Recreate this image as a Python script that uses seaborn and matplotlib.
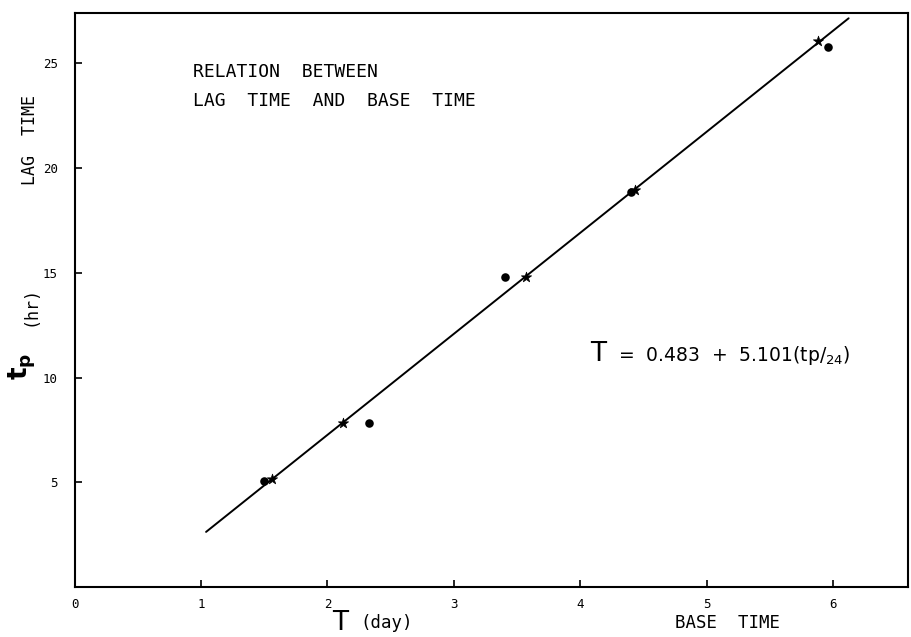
import matplotlib
matplotlib.use("Agg")
import matplotlib.pyplot as plt
import seaborn as sns
import pandas as pd

# Data
dot_T = [1.50, 2.33, 3.40, 4.40, 5.96]
dot_tp = [5.07, 7.84, 14.8, 18.85, 25.8]
star_T = [1.56, 2.12, 3.57, 4.43, 5.88]
star_tp = [5.16, 7.84, 14.8, 18.95, 26.05]
line_T = [1.04, 6.12]
line_tp = [2.63, 27.15]
x_ticks = [0, 1, 2, 3, 4, 5, 6]
y_ticks = [5, 10, 15, 20, 25]

sns.set_style("ticks")
plt.rcParams['font.family'] = ['DejaVu Sans']
plt.rcParams['text.color'] = 'black'

fig = plt.figure(figsize=(9.11, 6.37), dpi=100)
ax = fig.add_axes([0.0818, 0.0785, 0.915, 0.901])

dots = pd.DataFrame({"T": dot_T, "tp": dot_tp})
stars = pd.DataFrame({"T": star_T, "tp": star_tp})
line = pd.DataFrame({"T": line_T, "tp": line_tp})

sns.lineplot(data=line, x="T", y="tp", ax=ax, color="black", linewidth=1.4)
sns.scatterplot(data=dots, x="T", y="tp", ax=ax, color="black", marker="o",
                s=38, edgecolor="black", linewidth=0)
sns.scatterplot(data=stars, x="T", y="tp", ax=ax, color="black", marker="*",
                s=60, edgecolor="black", linewidth=0.5)

ax.set_xlim(0, 6.59)
ax.set_ylim(0, 27.4)
ax.set_xticks(x_ticks)
ax.set_yticks(y_ticks)
ax.set_xticklabels([str(v) for v in x_ticks], fontsize=9, family="DejaVu Sans Mono")
ax.set_yticklabels([str(v) for v in y_ticks], fontsize=9, family="DejaVu Sans Mono")
ax.tick_params(axis="both", direction="in", length=5, width=1.2, colors="black",
               labelcolor="black")
ax.tick_params(axis="x", pad=8)
ax.tick_params(axis="y", pad=12)
for s in ax.spines.values():
    s.set_linewidth(1.5)
    s.set_color("black")
ax.set_xlabel("")
ax.set_ylabel("")

mono = "DejaVu Sans Mono"
ax.text(0.94, 24.6, "RELATION  BETWEEN", fontsize=13, family=mono, va="center", ha="left")
ax.text(0.94, 23.2, "LAG  TIME  AND  BASE  TIME", fontsize=13, family=mono, va="center",
        ha="left")

ax.text(4.08, 11.1, "T", fontsize=19, va="center", ha="left")
ax.text(4.30, 11.05, "=  0.483  +  5.101(tp/$_{24}$)", fontsize=13.5, va="center", ha="left")

ax.text(-0.053, 0.779, "LAG  TIME", transform=ax.transAxes, rotation=90, fontsize=12,
        family=mono, va="center", ha="center")
ax.text(-0.062, 0.385, r"$\mathbf{t_p}$", transform=ax.transAxes, rotation=90, fontsize=19,
        va="center", ha="center")
ax.text(-0.053, 0.49, "(hr)", transform=ax.transAxes, rotation=90, fontsize=12,
        family=mono, va="center", ha="center")

ax.text(0.3185, -0.062, "T", transform=ax.transAxes, fontsize=19, va="center", ha="center")
ax.text(0.343, -0.062, "(day)", transform=ax.transAxes, fontsize=12.5, family=mono,
        va="center", ha="left")
ax.text(0.72, -0.062, "BASE  TIME", transform=ax.transAxes, fontsize=12.5, family=mono,
        va="center", ha="left")

fig.savefig("out.png", dpi=100)
